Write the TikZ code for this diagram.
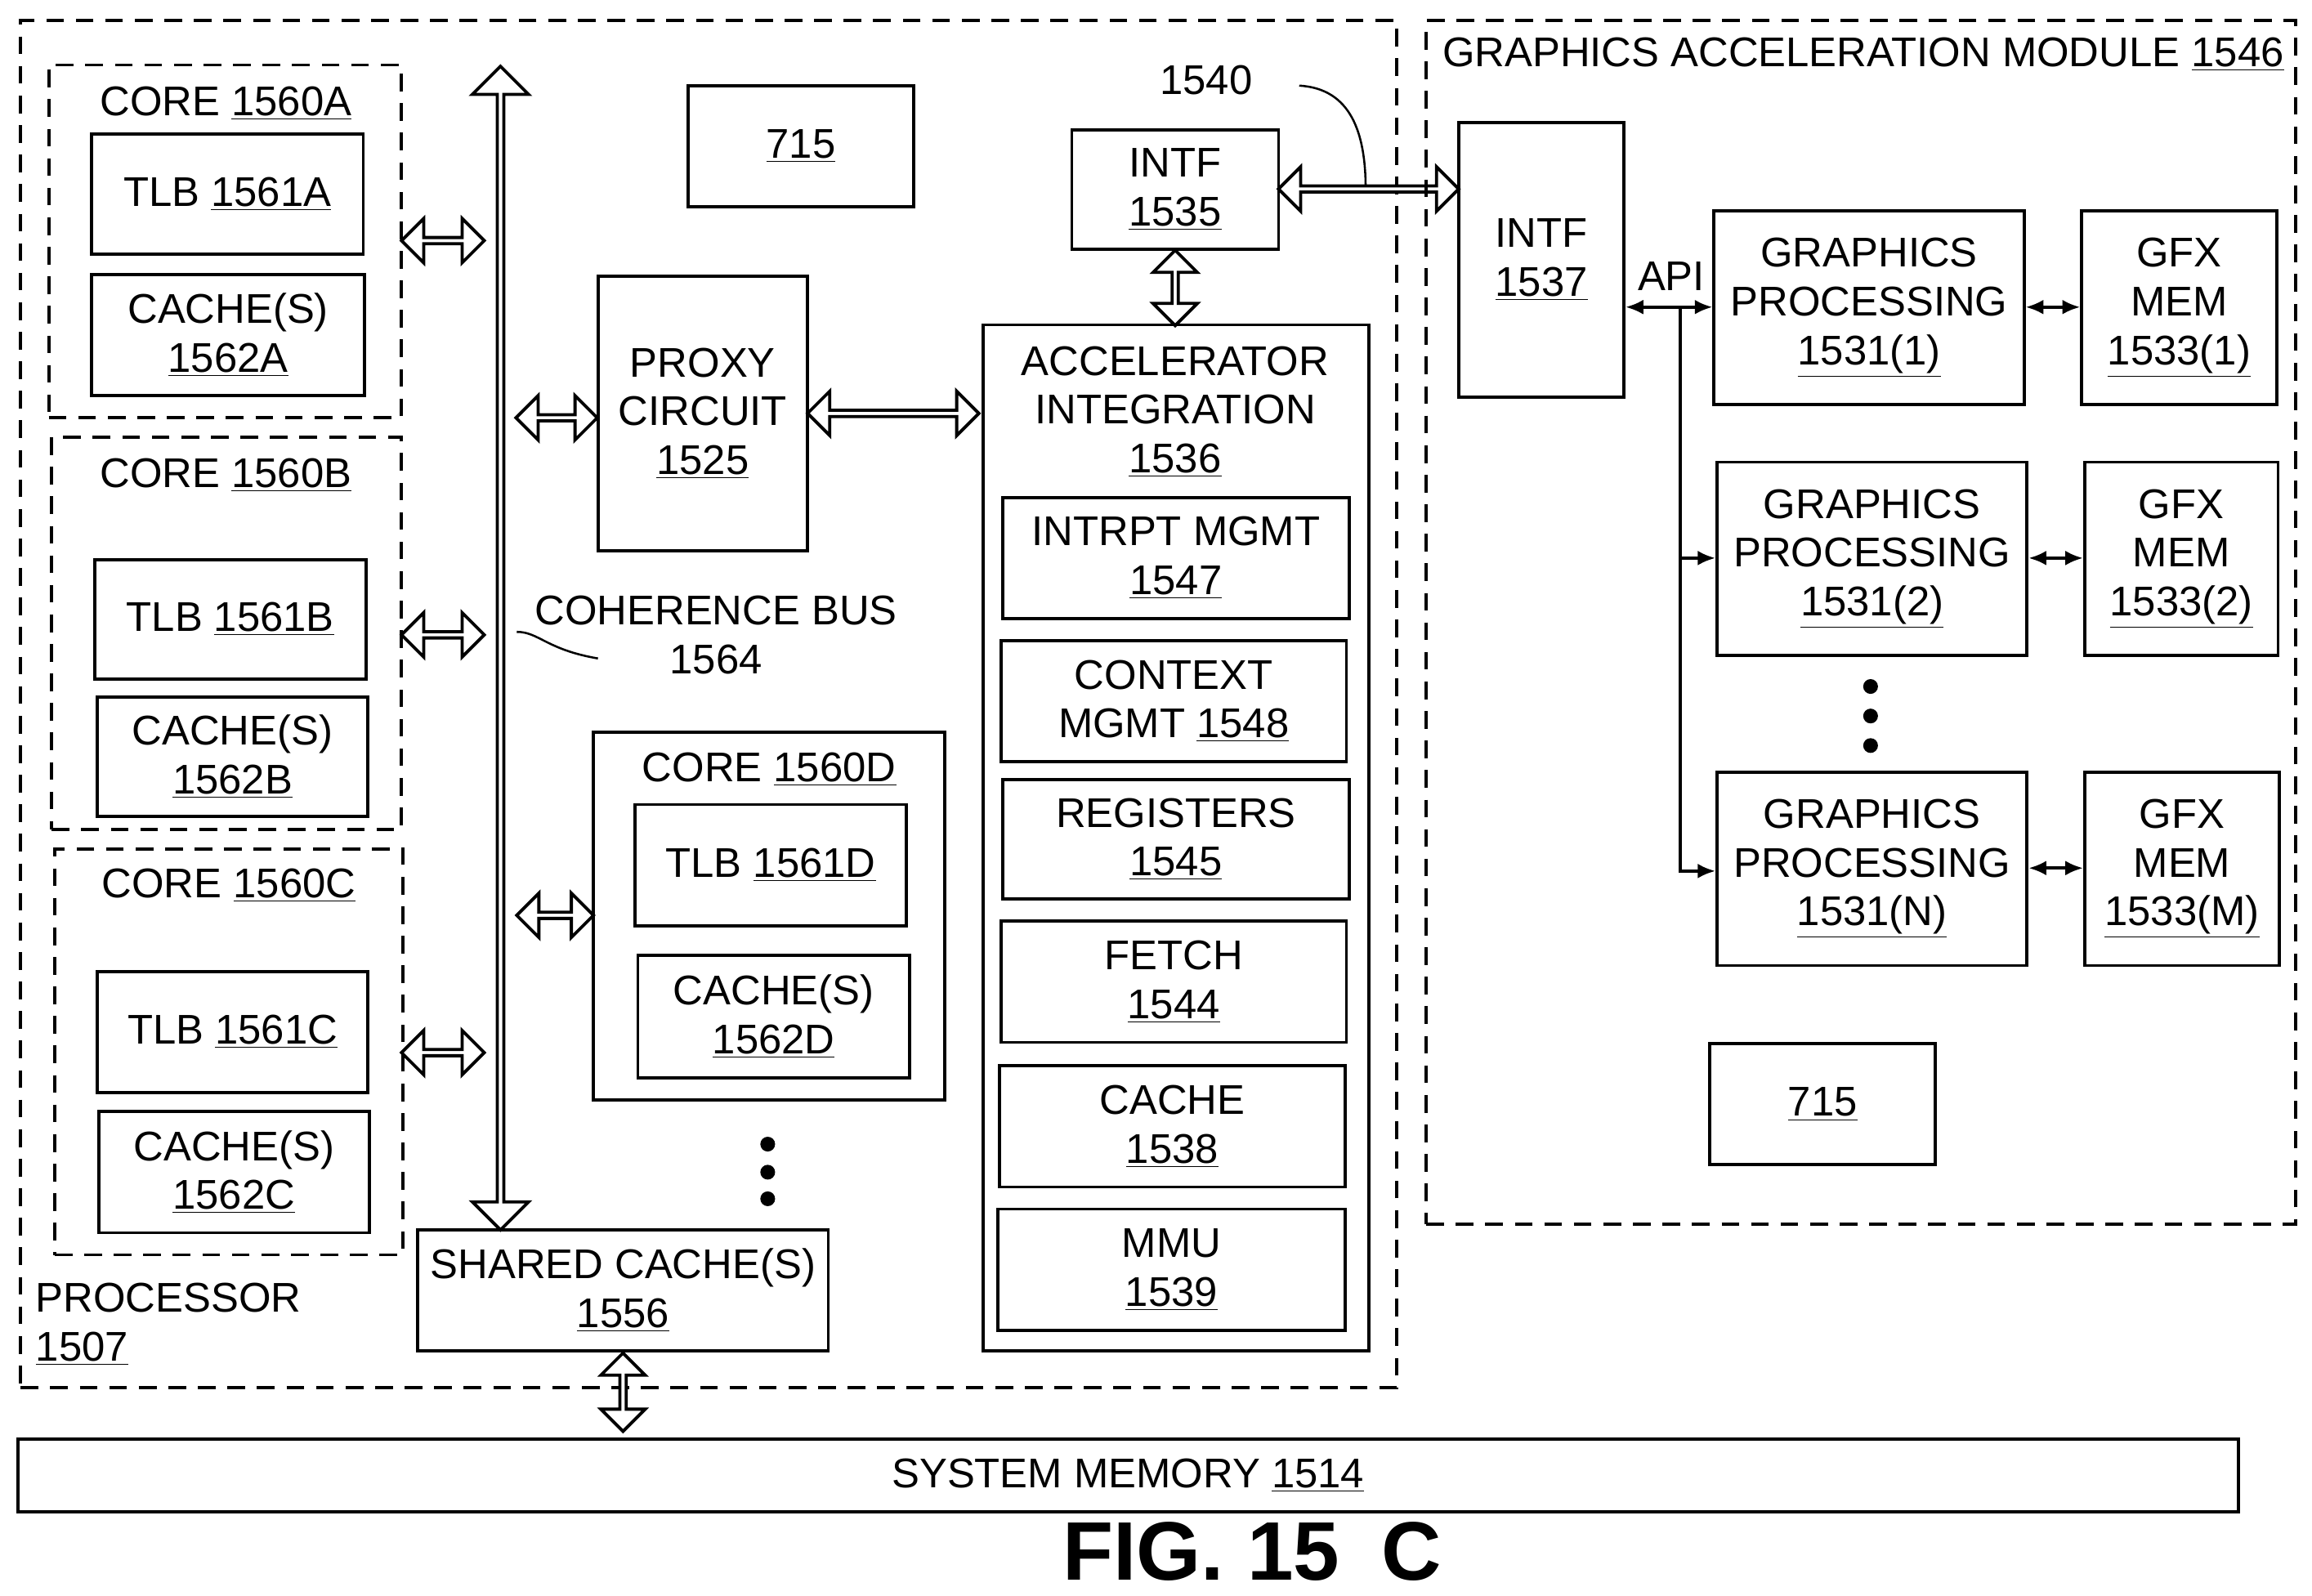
\documentclass[tikz,border=0pt]{standalone}
\usepackage{fontspec}
\setmainfont{Liberation Sans}
\usetikzlibrary{positioning,fit,shapes.arrows,arrows.meta}
% box from pixel corners
\newcommand\bx[7][]{%
  \node (#2) [box, #1, minimum width={(#5-#3)*0.025cm}, minimum height={(#6-#4)*0.025cm}]
    at ({(#3+#5)/2},{(#4+#6)/2}) {#7};}
\begin{document}
\begin{tikzpicture}
  [
    x=0.025cm, y=-0.025cm,
    every node/.style={font=\fontsize{20}{23.5}\selectfont},
    box/.style={draw, line width=1.5pt, inner sep=0pt, align=center},
    dashbox/.style={draw, line width=1.5pt, dash pattern=on 0.3cm off 0.2cm, inner sep=0pt},
    lbl/.style={inner sep=0pt, align=center},
    harrow/.style={double arrow, draw, line width=1.5pt, fill=white, inner sep=0pt,
      minimum width=0.75cm, double arrow head extend=0.16cm},
    varrow/.style={harrow, shape border rotate=90},
    thin arrow/.style={line width=1.5pt, {Latex[length=0.3cm,width=0.25cm]}-{Latex[length=0.3cm,width=0.25cm]}},
    dot/.style={circle, fill, inner sep=0pt, minimum size=0.25cm}
  ]
  \useasboundingbox (0,0) rectangle (1566,1081);

  % processor
  \bx[dashbox]{proc}{14}{14}{946}{940}{}
  \node (procl) [lbl, align=left, anchor=west] at (24,897) {PROCESSOR\\\underline{1507}};

  % cores A-C
  \bx[dashbox]{coreA}{33}{44}{272}{283}{}
  \node (coreAl) [lbl] at (153,70) {CORE \underline{1560A}};
  \bx{tlbA}{62}{91}{246}{172}{TLB \underline{1561A}}
  \bx{cacheA}{62}{186}{247}{268}{CACHE(S)\\\underline{1562A}}

  \bx[dashbox]{coreB}{35}{296}{272}{562}{}
  \node (coreBl) [lbl] at (153,322) {CORE \underline{1560B}};
  \bx{tlbB}{64}{379}{248}{460}{TLB \underline{1561B}}
  \bx{cacheB}{66}{472}{249}{553}{CACHE(S)\\\underline{1562B}}

  \bx[dashbox]{coreC}{37}{575}{273}{850}{}
  \node (coreCl) [lbl] at (155,600) {CORE \underline{1560C}};
  \bx{tlbC}{66}{658}{249}{740}{TLB \underline{1561C}}
  \bx{cacheC}{67}{753}{250}{835}{CACHE(S)\\\underline{1562C}}

  % coherence bus
  \node (bus) [varrow, minimum height=19.7cm, minimum width=0.95cm, double arrow head extend=0.2cm] at (339,439) {};
  \node (busl) [lbl] at (485,430) {COHERENCE BUS\\1564};
  \coordinate (busc) at (405,446);
  \draw[line width=1pt] (busc) .. controls (370,440) and (365,428) .. (350,428);

  \node (arA) [harrow, minimum height=1.4cm] at (300,163) {};
  \node (arB) [harrow, minimum height=1.4cm] at (300,430) {};
  \node (arC) [harrow, minimum height=1.4cm] at (300,713) {};
  \node (arD) [harrow, minimum height=1.3cm] at (376,620) {};
  \node (arP) [harrow, minimum height=1.375cm] at (377,283) {};

  \bx{m715a}{466}{58}{619}{140}{\underline{715}}
  \bx{proxy}{405}{187}{547}{373}{PROXY\\CIRCUIT\\\underline{1525}}

  % core D
  \bx{coreD}{402}{496}{640}{745}{}
  \node (coreDl) [lbl] at (521,521) {CORE \underline{1560D}};
  \bx{tlbD}{430}{545}{614}{627}{TLB \underline{1561D}}
  \bx{cacheD}{432}{647}{616}{730}{CACHE(S)\\\underline{1562D}}
  \node (d1) [dot] at (520,775) {};
  \node (d2) [dot] at (520,794) {};
  \node (d3) [dot] at (520,812) {};

  \bx{shared}{283}{833}{561}{915}{SHARED CACHE(S)\\\underline{1556}}
  \node (arM) [varrow, minimum height=1.325cm] at (422,943) {};

  % accelerator integration
  \bx{intf1}{726}{88}{866}{169}{INTF\\\underline{1535}}
  \node (l1540) [lbl] at (817,54) {1540};
  \coordinate (c1540) at (880,58);
  \draw[line width=1pt] (c1540) .. controls (915,60) and (925,90) .. (925,128);
  \bx{acc}{666}{220}{927}{915}{}
  \node (accl) [lbl] at (796,279) {ACCELERATOR\\INTEGRATION\\\underline{1536}};
  \bx{intr}{679}{337}{914}{419}{INTRPT MGMT\\\underline{1547}}
  \bx{ctx}{678}{434}{912}{516}{CONTEXT\\MGMT \underline{1548}}
  \bx{reg}{679}{528}{914}{609}{REGISTERS\\\underline{1545}}
  \bx{fetch}{678}{624}{912}{706}{FETCH\\\underline{1544}}
  \bx{cache}{677}{722}{911}{804}{CACHE\\\underline{1538}}
  \bx{mmu}{676}{819}{911}{901}{MMU\\\underline{1539}}
  \node (arPA) [harrow, minimum height=2.9cm] at (605,280) {};
  \node (arIA) [varrow, minimum height=1.275cm] at (796,195) {};
  \node (arII) [harrow, minimum height=3.05cm] at (927,128) {};

  % graphics acceleration module
  \bx[dashbox]{gam}{966}{14}{1555}{829}{}
  \node (gaml) [lbl] at (1262,37) {GRAPHICS ACCELERATION MODULE \underline{1546}};
  \bx{intf2}{988}{83}{1100}{269}{}
  \node (intf2l) [lbl] at (1044,176) {INTF\\\underline{1537}};
  \node (api) [lbl] at (1132,187) {API};
  \bx{gp1}{1161}{143}{1371}{274}{GRAPHICS\\PROCESSING\\\underline{1531(1)}}
  \bx{gp2}{1163}{313}{1373}{444}{GRAPHICS\\PROCESSING\\\underline{1531(2)}}
  \bx{gpn}{1163}{523}{1373}{654}{GRAPHICS\\PROCESSING\\\underline{1531(N)}}
  \bx{mem1}{1410}{143}{1542}{274}{GFX\\MEM\\\underline{1533(1)}}
  \bx{mem2}{1412}{313}{1543}{444}{GFX\\MEM\\\underline{1533(2)}}
  \bx{memm}{1412}{523}{1544}{654}{GFX\\MEM\\\underline{1533(M)}}
  \coordinate (apij) at (1138,208);
  \draw[thin arrow] (intf2.east |- apij) -- (gp1.west |- apij);
  \draw[line width=1.5pt, -{Latex[length=0.3cm,width=0.25cm]}] (apij) |- (gpn.west |- 0,590);
  \draw[line width=1.5pt, -{Latex[length=0.3cm,width=0.25cm]}] (apij |- 0,378) -- (gp2.west |- 0,378);
  \draw[thin arrow] (gp1.east |- 0,208) -- (mem1.west |- 0,208);
  \draw[thin arrow] (gp2.east |- 0,378) -- (mem2.west |- 0,378);
  \draw[thin arrow] (gpn.east |- 0,588) -- (memm.west |- 0,588);
  \node (e1) [dot] at (1267,465) {};
  \node (e2) [dot] at (1267,485) {};
  \node (e3) [dot] at (1267,505) {};
  \bx{m715b}{1158}{707}{1311}{789}{\underline{715}}

  % system memory
  \bx{sysmem}{12}{975}{1516}{1024}{SYSTEM MEMORY \underline{1514}}
  \node (fig) [lbl, font=\fontsize{40}{44}\selectfont\bfseries] at (848,1051) {FIG. 15\enspace C};
\end{tikzpicture}
\end{document}
